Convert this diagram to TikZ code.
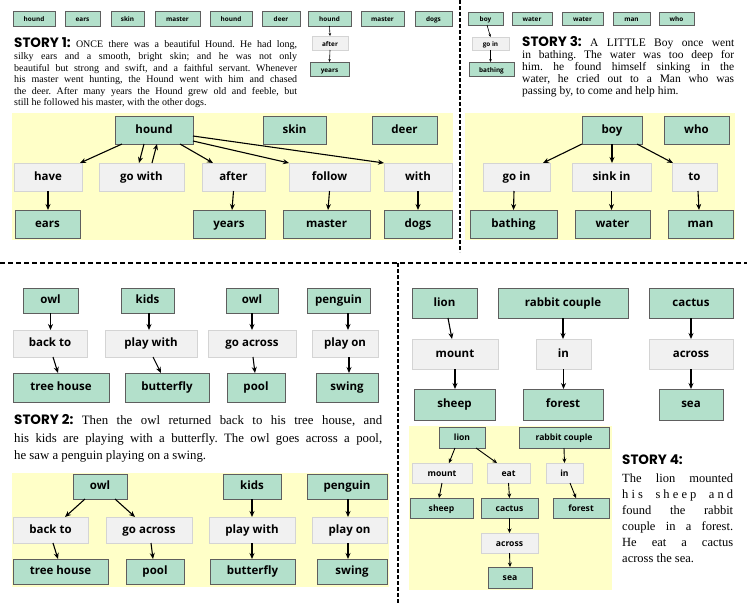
\documentclass[tikz,border=0pt]{standalone}
\usepackage{fontspec}
\setmainfont{Liberation Serif}
\newfontfamily\boxfont{Open Sans}
\newfontfamily\hdrfont{Poppins}
\usetikzlibrary{arrows.meta,calc}
\definecolor{mint}{HTML}{B3E0CB}
\definecolor{bdr}{HTML}{5E5E5E}
\definecolor{lgray}{HTML}{F1F1F1}
\definecolor{lgbdr}{HTML}{D4D4D4}
\definecolor{ylw}{HTML}{FFFFC8}
\def\bxparse#1,#2;#3,#4;{\def\bxa{#1}\def\bxb{#2}\def\bxc{#3}\def\bxd{#4}}
\newcommand\bx[5]{\bxparse#2;#3;%
 \pgfmathsetmacro\bxcx{(\bxa+\bxc)/2}\pgfmathsetmacro\bxcy{(\bxb+\bxd)/2}%
 \pgfmathsetmacro\bxw{\bxc-\bxa}\pgfmathsetmacro\bxh{\bxd-\bxb}%
 \node[#1, minimum width=\bxw pt, minimum height=\bxh pt] (#4) at (\bxcx,\bxcy) {#5};}
\newcommand\txtline[4]{\node[anchor=base west, inner sep=0pt] (#1) at (#2) {\makebox[#3][s]{#4}};}
\newcommand\hdr[1]{\raisebox{0pt}[\height][0pt]{\hdrfont\bfseries\fontsize{13.5}{14}\selectfont #1}}
\newcommand\lsp{\hspace{0pt plus 1fil}}
\newcommand\wsp{\ \hspace{0pt plus 3fil}}
\begin{document}
\frenchspacing
\begin{tikzpicture}[x=1pt,y=-1pt,
 bxbase/.style={inner sep=0pt, outer sep=0pt, text height=.8em, text depth=.12em},
 gn/.style={bxbase, fill=mint, draw=bdr, line width=.7pt},
 gy/.style={bxbase, fill=lgray, draw=lgbdr, line width=.5pt},
 fbig/.style={font=\boxfont\bfseries\fontsize{11.5}{13}\selectfont},
 fmd/.style={font=\boxfont\bfseries\fontsize{8.6}{10}\selectfont},
 fsm/.style={font=\boxfont\bfseries\fontsize{6.4}{8}\selectfont},
 arr/.style={-{Stealth[length=6pt,width=5pt]}, line width=1.1pt},
 marr/.style={-{Stealth[length=4.5pt,width=4pt]}, line width=.9pt},
 sarr/.style={-{Stealth[length=3pt,width=2.6pt]}, line width=.6pt},
 sepline/.style={line width=2.2pt, dash pattern=on 4pt off 2pt},
 hsepline/.style={line width=2.2pt, dash pattern=on 5pt off 3pt}]
\fill[white] (0,0) rectangle (747,603);
\useasboundingbox (0,0) rectangle (747,603);

% yellow panels
\fill[ylw] (12,113) rectangle (453,239.5);
\fill[ylw] (465,113) rectangle (735,239.5);
\fill[ylw] (12,473) rectangle (389,587);
\fill[ylw] (409,426) rectangle (612,590);

% separators
\draw[sepline] (460,0) -- (460,252);
\draw[hsepline] (0,263) -- (747,263);
\draw[sepline] (398,263) -- (398,603);

% ---------- STORY 1 ----------
\bx{gn,fsm}{13,11}{55,26}{ta}{hound}
\bx{gn,fsm}{65,11}{100,26}{tb}{ears}
\bx{gn,fsm}{111,11}{144,26}{tc}{skin}
\bx{gn,fsm}{155,11}{200,26}{td}{master}
\bx{gn,fsm}{210,11}{252,26}{te}{hound}
\bx{gn,fsm}{262,11}{300,26}{tf}{deer}
\bx{gn,fsm}{308,11}{351,26}{tg}{hound}
\bx{gn,fsm}{361,11}{404,26}{th}{master}
\bx{gn,fsm}{415,11}{452,26}{ti}{dogs}
\bx{gy,fsm}{312,36}{348,50}{tafter}{after}
\bx{gn,fsm}{310,62}{349,76}{tyears}{years}
\draw[sarr] (tg.south) -- (tafter.north);
\draw[sarr] (tafter.south) -- (tyears.north);

\begin{scope}[font=\fontsize{10}{11}\selectfont]
\txtline{s1a}{14,47}{283pt}{\hdr{STORY 1:} ONCE there was a beautiful Hound. He had long,}
\txtline{s1b}{14,59.5}{283pt}{silky ears and a smooth, bright skin; and he was not only}
\txtline{s1c}{14,71}{283pt}{beautiful but strong and swift, and a faithful servant. Whenever}
\txtline{s1d}{14,82.5}{283pt}{his master went hunting, the Hound went with him and chased}
\txtline{s1e}{14,94}{283pt}{the deer. After many years the Hound grew old and feeble, but}
\node[anchor=base west, inner sep=0pt] (s1f) at (14,105.5) {still he followed his master, with the other dogs.};
\end{scope}

\bx{gn,fbig}{115,116}{193,144}{hound}{hound}
\bx{gn,fbig}{263,116}{326,144}{skin}{skin}
\bx{gn,fbig}{372,116}{437,144}{deer}{deer}
\bx{gy,fbig}{14,163}{82,191}{have}{have}
\bx{gy,fbig}{99,163}{184,191}{gowith}{go with}
\bx{gy,fbig}{202,163}{265,191}{after}{after}
\bx{gy,fbig}{289,163}{370,191}{follow}{follow}
\bx{gy,fbig}{384,163}{452,191}{with}{with}
\bx{gn,fbig}{15,210}{80,238}{ears}{ears}
\bx{gn,fbig}{193,210}{265,238}{years}{years}
\bx{gn,fbig}{283,210}{370,238}{master}{master}
\bx{gn,fbig}{384,210}{452,238}{dogs}{dogs}
\draw[arr] ([xshift=7pt]hound.south west) -- ([xshift=-2pt]have.north east);
\draw[arr] ([xshift=-10pt]hound.south) -- ([xshift=-2.5pt]gowith.north);
\draw[arr] ([xshift=10.5pt]gowith.north) -- ([xshift=3pt]hound.south);
\draw[arr] ([xshift=26pt]hound.south) -- ([xshift=-20.5pt]after.north);
\draw[arr] ([yshift=3pt]hound.south east) -- (follow.north west);
\draw[arr] ([yshift=8pt]hound.south east) -- (with.north west);
\draw[arr] (have.south) -- (have.south |- ears.north);
\draw[arr] (after.south) -- ([xshift=3pt]years.north);
\draw[arr] (follow.south) -- ([xshift=1.5pt]master.north);
\draw[arr] (with.south) -- (with.south |- dogs.north);

% ---------- STORY 3 ----------
\bx{gn,fsm}{468,12}{503,25}{sa}{boy}
\bx{gn,fsm}{512,12}{552,25}{sb}{water}
\bx{gn,fsm}{562,12}{603,25}{sc}{water}
\bx{gn,fsm}{613,12}{650,25}{sd}{man}
\bx{gn,fsm}{659,12}{694,25}{se}{who}
\bx{gy,fsm}{472,37}{509,50}{sgoin}{go in}
\bx{gn,fsm}{469,62}{514,76}{sbath}{bathing}
\draw[sarr] ([xshift=1.5pt]sa.south) -- (sgoin.north);
\draw[sarr] (sgoin.south) -- (sgoin.south |- sbath.north);

\begin{scope}[font=\fontsize{11.5}{12.5}\selectfont]
\txtline{s3a}{522,46}{212pt}{\hdr{STORY 3:} A LITTLE Boy once went}
\txtline{s3b}{522,58.5}{212pt}{in bathing. The water was too deep for}
\txtline{s3c}{522,70.5}{212pt}{him. he found himself sinking in the}
\txtline{s3d}{522,82.5}{212pt}{water, he cried out to a Man who was}
\node[anchor=base west, inner sep=0pt] (s3e) at (522,94.5) {passing by, to come and help him.};
\end{scope}

\bx{gn,fbig}{582,116}{642,144}{boy}{boy}
\bx{gn,fbig}{664,116}{729,144}{who}{who}
\bx{gy,fbig}{483,163}{550,191}{goin}{go in}
\bx{gy,fbig}{572,163}{651,191}{sinkin}{sink in}
\bx{gy,fbig}{672,163}{717,191}{to}{to}
\bx{gn,fbig}{470,210}{557,238}{bathing}{bathing}
\bx{gn,fbig}{575,210}{650,238}{water}{water}
\bx{gn,fbig}{668,210}{733,238}{man}{man}
\draw[arr] (boy.south west) -- ([xshift=-7pt]goin.north east);
\draw[arr] (boy.south) -- (boy.south |- sinkin.north);
\draw[arr] ([xshift=-5pt]boy.south east) -- ([xshift=1pt]to.north west);
\draw[arr] ([xshift=-2.5pt]goin.south) -- (bathing.north);
\draw[arr] (sinkin.south) -- (sinkin.south |- water.north);
\draw[arr] ([xshift=3.5pt]to.south) -- ([xshift=-1.5pt]man.north);

% ---------- STORY 2 ----------
\bx{gn,fbig}{23,288}{78,313}{owlA}{owl}
\bx{gn,fbig}{121,288}{174,313}{kidsA}{kids}
\bx{gn,fbig}{226,288}{278,313}{owlB}{owl}
\bx{gn,fbig}{307,288}{370,313}{pengA}{penguin}
\bx{gy,fbig}{13,330}{87,357}{backA}{back to}
\bx{gy,fbig}{105,330}{197,357}{playwA}{play with}
\bx{gy,fbig}{208,330}{296,357}{acrossA}{go across}
\bx{gy,fbig}{312,330}{378,357}{playoA}{play on}
\bx{gn,fbig}{13,373}{109,402}{treeA}{tree house}
\bx{gn,fbig}{125,373}{209,402}{buttA}{butterfly}
\bx{gn,fbig}{227,373}{285,402}{poolA}{pool}
\bx{gn,fbig}{316,373}{378,402}{swingA}{swing}
\draw[arr] (owlA.south) -- (owlA.south |- backA.north);
\draw[arr] ([xshift=3pt]backA.south) -- ([xshift=-3pt]treeA.north);
\draw[arr] ([xshift=1.5pt]kidsA.south) -- ([xshift=-2pt]playwA.north);
\draw[arr] ([xshift=2pt]playwA.south) -- ([xshift=-6pt]buttA.north);
\draw[arr] (owlB.south) -- (acrossA.north);
\draw[arr] ([xshift=1pt]acrossA.south) -- ([xshift=-1pt]poolA.north);
\draw[arr] ([xshift=9.5pt]pengA.south) -- ([xshift=3pt]playoA.north);
\draw[arr] ([xshift=4pt]playoA.south) -- ([xshift=2pt]swingA.north);

\begin{scope}[font=\fontsize{12.8}{14}\selectfont]
\txtline{s2a}{14,424}{368pt}{\hdr{STORY 2:} Then the owl returned back to his tree house, and}
\txtline{s2b}{14,442}{368pt}{his kids are playing with a butterfly. The owl goes across a pool,}
\node[anchor=base west, inner sep=0pt] (s2c) at (14,459) {he saw a penguin playing on a swing.};
\end{scope}

\bx{gn,fbig}{73,474}{127,499}{owlC}{owl}
\bx{gn,fbig}{223,474}{281,499}{kidsC}{kids}
\bx{gn,fbig}{307,474}{387,499}{pengC}{penguin}
\bx{gy,fbig}{13,517}{88,543}{backC}{back to}
\bx{gy,fbig}{106,517}{192,543}{acrossC}{go across}
\bx{gy,fbig}{209,517}{295,543}{playwC}{play with}
\bx{gy,fbig}{312,517}{387,543}{playoC}{play on}
\bx{gn,fbig}{13,559}{108,584}{treeC}{tree house}
\bx{gn,fbig}{126,559}{184,584}{poolC}{pool}
\bx{gn,fbig}{210,559}{295,584}{buttC}{butterfly}
\bx{gn,fbig}{317,559}{387,584}{swingC}{swing}
\draw[arr] ([xshift=-15pt]owlC.south) -- ([xshift=14.5pt]backC.north);
\draw[arr] ([xshift=15pt]owlC.south) -- ([xshift=-14pt]acrossC.north);
\draw[arr] ([xshift=2.5pt]backC.south) -- ([xshift=-2.5pt]treeC.north);
\draw[arr] ([xshift=2pt]acrossC.south) -- ([xshift=-2pt]poolC.north);
\draw[arr] (kidsC.south) -- (kidsC.south |- playwC.north);
\draw[arr] (playwC.south) -- (playwC.south |- buttC.north);
\draw[arr] ([xshift=1pt]pengC.south) -- ([xshift=-1.5pt]playoC.north);
\draw[arr] ([xshift=-1.5pt]playoC.south) -- ([xshift=-4pt]swingC.north);

% ---------- STORY 4 ----------
\bx{gn,fbig}{412,288}{477,318}{lionA}{lion}
\bx{gn,fbig}{498,288}{628,318}{rabA}{rabbit couple}
\bx{gn,fbig}{649,288}{733,318}{cactA}{cactus}
\bx{gy,fbig}{412,339}{498,369}{mountA}{mount}
\bx{gy,fbig}{536,339}{591,369}{inA}{in}
\bx{gy,fbig}{649,339}{733,369}{acrA}{across}
\bx{gn,fbig}{414,389}{495,420}{sheepA}{sheep}
\bx{gn,fbig}{523,389}{603,420}{forA}{forest}
\bx{gn,fbig}{659,389}{723,420}{seaA}{sea}
\draw[arr] ([xshift=3.5pt]lionA.south) -- ([xshift=-3pt]mountA.north);
\draw[arr] (mountA.south) -- (mountA.south |- sheepA.north);
\draw[arr] (rabA.south) -- (rabA.south |- inA.north);
\draw[arr] (inA.south) -- (inA.south |- forA.north);
\draw[arr] (cactA.south) -- (cactA.south |- acrA.north);
\draw[arr] (acrA.south) -- (acrA.south |- seaA.north);

\bx{gn,fmd}{439,427}{485,448}{lionB}{lion}
\bx{gn,fmd}{519,427}{609,448}{rabB}{rabbit couple}
\bx{gy,fmd}{412,463}{472,483}{mountB}{mount}
\bx{gy,fmd}{487,463}{530,483}{eatB}{eat}
\bx{gy,fmd}{546,463}{583,483}{inB}{in}
\bx{gn,fmd}{410,498}{473,518}{sheepB}{sheep}
\bx{gn,fmd}{481,498}{538,518}{cactB}{cactus}
\bx{gn,fmd}{553,498}{609,518}{forB}{forest}
\bx{gy,fmd}{481,533}{538,553}{acrB}{across}
\bx{gn,fmd}{488,567}{532,588}{seaB}{sea}
\draw[marr] ([xshift=-7pt]lionB.south) -- ([xshift=7pt]mountB.north);
\draw[marr] ([xshift=14pt]lionB.south) -- ([xshift=-11.5pt]eatB.north);
\draw[marr] (mountB.south) -- ([xshift=-2.5pt]sheepB.north);
\draw[marr] (eatB.south) -- (cactB.north);
\draw[marr] (cactB.south) -- (cactB.south |- acrB.north);
\draw[marr] (acrB.south) -- (seaB.north);
\draw[marr] (rabB.south) -- (inB.north);
\draw[marr] ([xshift=5.5pt]inB.south) -- ([xshift=-5pt]forB.north);

\begin{scope}[font=\fontsize{12.5}{14}\selectfont]
\node[anchor=base west, inner sep=0pt] (s4h) at (622,464) {\hdr{STORY 4:}};
\txtline{s4a}{622,482}{111pt}{The lion mounted}
\txtline{s4b}{622,498}{111pt}{h\lsp i\lsp s\wsp s\lsp h\lsp e\lsp e\lsp p\wsp a\lsp n\lsp d}
\txtline{s4c}{622,514}{111pt}{found the rabbit}
\txtline{s4d}{622,530}{111pt}{couple in a forest.}
\txtline{s4e}{622,546}{111pt}{He eat a cactus}
\node[anchor=base west, inner sep=0pt] (s4f) at (622,562) {across the sea.};
\end{scope}
\end{tikzpicture}
\end{document}
